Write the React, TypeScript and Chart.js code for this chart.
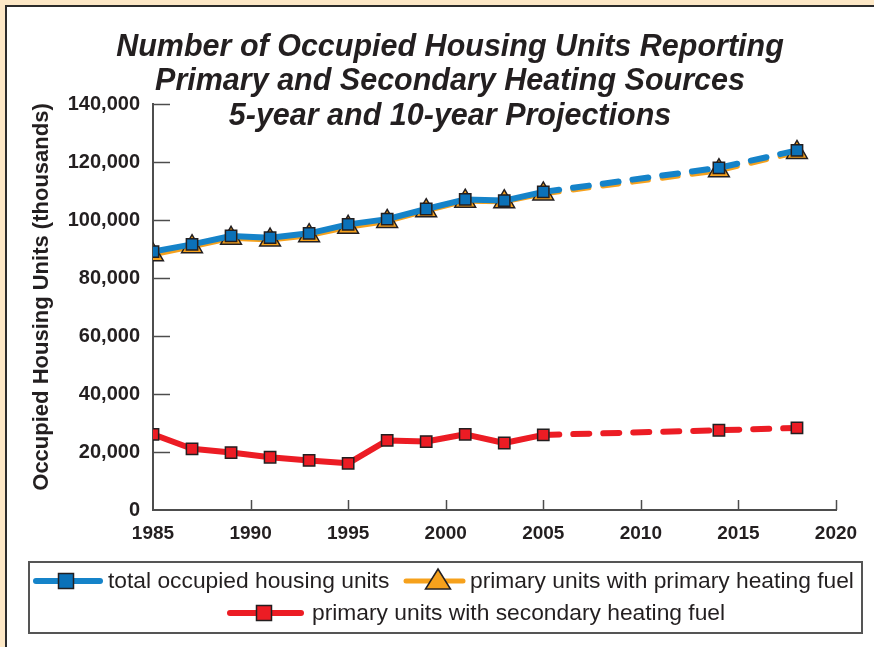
import React, { useEffect, useRef } from 'react';
import { Chart, registerables } from 'chart.js';

Chart.register(...registerables);

// ---- data ----
const years = [1985, 1987, 1989, 1991, 1993, 1995, 1997, 1999, 2001, 2003, 2005, 2014, 2018];
const totalUnits = [89100, 91600, 94500, 93900, 95400, 98500, 100300, 103800, 107100, 106700, 109700, 118000, 124000];
const primaryFuel = [88000, 90800, 93700, 93100, 94600, 97500, 99500, 103200, 106500, 106300, 109000, 117000, 123300];
const secondaryFuel = [26100, 21100, 19800, 18200, 17100, 16100, 24000, 23600, 26100, 23100, 25900, 27500, 28300];
const projectionStart = 2005;

const xTickValues = [1985, 1990, 1995, 2000, 2005, 2010, 2015, 2020];
const yTickValues = [0, 20000, 40000, 60000, 80000, 100000, 120000, 140000];

const titleLines = [
  'Number of Occupied Housing Units Reporting',
  'Primary and Secondary Heating Sources',
  '5-year and 10-year Projections',
];
const yAxisTitle = 'Occupied Housing Units (thousands)';
const seriesLabels = [
  'total occupied housing units',
  'primary units with primary heating fuel',
  'primary units with secondary heating fuel',
];

// ---- styles ----
const FONT = '"Liberation Sans", Arial, Helvetica, sans-serif';
const BLUE = '#1583c9';
const BLUE_MK = '#0b71b8';
const ORANGE = '#f6a11c';
const RED = '#ec1c24';
const EDGE = '#231f20';
const AXIS = '#4d4d4d';
const TEXT = '#231f20';

function drawSquare(ctx: CanvasRenderingContext2D, cx: number, cy: number, side: number, fill: string) {
  ctx.fillStyle = fill;
  ctx.strokeStyle = EDGE;
  ctx.lineWidth = 1.5;
  ctx.fillRect(cx - side / 2, cy - side / 2, side, side);
  ctx.strokeRect(cx - side / 2, cy - side / 2, side, side);
}

function drawTriangle(ctx: CanvasRenderingContext2D, cx: number, cy: number, w: number, h: number, fill: string) {
  ctx.beginPath();
  ctx.moveTo(cx, cy - h * 0.6);
  ctx.lineTo(cx + w / 2, cy + h * 0.4);
  ctx.lineTo(cx - w / 2, cy + h * 0.4);
  ctx.closePath();
  ctx.fillStyle = fill;
  ctx.fill();
  ctx.strokeStyle = EDGE;
  ctx.lineWidth = 1.5;
  ctx.stroke();
}

function legendLine(ctx: CanvasRenderingContext2D, x1: number, x2: number, y: number, color: string, w: number) {
  ctx.beginPath();
  ctx.moveTo(x1, y);
  ctx.lineTo(x2, y);
  ctx.strokeStyle = color;
  ctx.lineWidth = w;
  ctx.lineCap = 'round';
  ctx.stroke();
}

const decorPlugin = {
  id: 'decor',
  beforeDatasetsDraw(chart: any) {
    const { ctx, chartArea, scales } = chart;
    const x = scales.x;
    const y = scales.y;
    ctx.save();
    ctx.strokeStyle = AXIS;
    ctx.lineWidth = 1.5;
    yTickValues.forEach((v) => {
      if (v === 0) return;
      const py = Math.round(y.getPixelForValue(v)) + 0.5;
      ctx.beginPath();
      ctx.moveTo(chartArea.left, py);
      ctx.lineTo(chartArea.left + 17, py);
      ctx.stroke();
    });
    xTickValues.forEach((v) => {
      if (v === xTickValues[0]) return;
      const px = Math.round(x.getPixelForValue(v)) + 0.5;
      ctx.beginPath();
      ctx.moveTo(px, chartArea.bottom);
      ctx.lineTo(px, chartArea.bottom - 10);
      ctx.stroke();
    });
    ctx.restore();
  },
  afterDraw(chart: any) {
    const { ctx } = chart;
    ctx.save();
    // title
    ctx.fillStyle = TEXT;
    ctx.font = `italic bold 30.5px ${FONT}`;
    ctx.textAlign = 'center';
    ctx.textBaseline = 'alphabetic';
    const baselines = [56, 90, 125];
    titleLines.forEach((t, i) => ctx.fillText(t, 450, baselines[i]));

    // y axis title
    ctx.save();
    ctx.translate(42, 297);
    ctx.rotate(-Math.PI / 2);
    ctx.font = `bold 22px ${FONT}`;
    ctx.textAlign = 'center';
    ctx.textBaseline = 'middle';
    ctx.fillText(yAxisTitle, 0, 0);
    ctx.restore();

    // legend box
    ctx.strokeStyle = '#555555';
    ctx.lineWidth = 2;
    ctx.strokeRect(29, 562, 833, 71);

    ctx.font = `22.8px ${FONT}`;
    ctx.textAlign = 'left';
    ctx.textBaseline = 'middle';
    ctx.fillStyle = TEXT;

    const r1 = 581;
    const r2 = 613;
    legendLine(ctx, 36, 100, r1, BLUE, 6);
    drawSquare(ctx, 66, r1, 15, BLUE_MK);
    ctx.fillStyle = TEXT;
    ctx.fillText(seriesLabels[0], 108, r1 + 1);

    legendLine(ctx, 406, 463, r1, ORANGE, 5);
    drawTriangle(ctx, 438, r1, 25, 20, ORANGE);
    ctx.fillStyle = TEXT;
    ctx.fillText(seriesLabels[1], 470, r1 + 1);

    legendLine(ctx, 230, 301, r2, RED, 6);
    drawSquare(ctx, 264, r2, 15, RED);
    ctx.fillStyle = TEXT;
    ctx.fillText(seriesLabels[2], 312, r2 + 1);

    ctx.restore();
  },
};

const dashAfterProjection = (ctx: any) =>
  ctx.p0.parsed.x >= projectionStart ? [16, 14] : undefined;

function toPoints(values: number[]) {
  return years.map((yr, i) => ({ x: yr, y: values[i] }));
}

export default function App() {
  const canvasRef = useRef<HTMLCanvasElement | null>(null);

  useEffect(() => {
    const canvas = canvasRef.current;
    if (!canvas) return;
    const chart = new Chart(canvas, {
      type: 'line',
      data: {
        datasets: [
          {
            label: seriesLabels[0],
            data: toPoints(totalUnits),
            borderColor: BLUE,
            borderWidth: 6,
            borderCapStyle: 'round',
            borderJoinStyle: 'round',
            pointStyle: 'rect',
            pointRadius: 8,
            pointBackgroundColor: BLUE_MK,
            pointBorderColor: EDGE,
            pointBorderWidth: 1.5,
            tension: 0,
            order: 0,
            segment: { borderDash: dashAfterProjection },
          },
          {
            label: seriesLabels[1],
            data: toPoints(primaryFuel),
            borderColor: ORANGE,
            borderWidth: 5,
            borderCapStyle: 'round',
            borderJoinStyle: 'round',
            pointStyle: 'triangle',
            pointRadius: 12,
            pointBackgroundColor: ORANGE,
            pointBorderColor: EDGE,
            pointBorderWidth: 1.5,
            tension: 0,
            order: 1,
            segment: { borderDash: dashAfterProjection },
          },
          {
            label: seriesLabels[2],
            data: toPoints(secondaryFuel),
            borderColor: RED,
            borderWidth: 6,
            borderCapStyle: 'round',
            borderJoinStyle: 'round',
            pointStyle: 'rect',
            pointRadius: 8,
            pointBackgroundColor: RED,
            pointBorderColor: EDGE,
            pointBorderWidth: 1.5,
            tension: 0,
            order: 2,
            segment: { borderDash: dashAfterProjection },
          },
        ],
      },
      options: {
        responsive: false,
        animation: false,
        devicePixelRatio: 1,
        layout: { padding: { left: 0, top: 104, right: 38, bottom: 0 } },
        plugins: {
          legend: { display: false },
          title: { display: false },
          tooltip: { enabled: false },
        },
        scales: {
          x: {
            type: 'linear',
            min: 1985,
            max: 2020,
            afterBuildTicks: (scale: any) => {
              scale.ticks = xTickValues.map((v) => ({ value: v }));
            },
            afterFit: (scale: any) => {
              scale.height = 137;
            },
            ticks: {
              autoSkip: false,
              maxRotation: 0,
              padding: 12,
              color: TEXT,
              font: { family: FONT, size: 19, weight: 'bold' },
              callback: (v: any) => String(v),
            },
            grid: { display: false, drawTicks: false },
            border: { display: true, color: AXIS, width: 2 },
          },
          y: {
            type: 'linear',
            min: 0,
            max: 140000,
            afterBuildTicks: (scale: any) => {
              scale.ticks = yTickValues.map((v) => ({ value: v }));
            },
            afterFit: (scale: any) => {
              scale.width = 153;
            },
            ticks: {
              padding: 13,
              color: TEXT,
              font: { family: FONT, size: 20, weight: 'bold' },
              callback: (v: any) => Number(v).toLocaleString('en-US'),
            },
            grid: { display: false, drawTicks: false },
            border: { display: true, color: AXIS, width: 2 },
          },
        },
      },
      plugins: [decorPlugin],
    } as any);
    return () => chart.destroy();
  }, []);

  return (
    <div
      style={{
        position: 'absolute',
        left: 0,
        top: 0,
        width: 874,
        height: 647,
        overflow: 'hidden',
        background: '#fde8c6',
      }}
    >
      <div
        style={{
          position: 'absolute',
          left: 5,
          top: 5,
          width: 900,
          height: 700,
          background: '#ffffff',
          borderLeft: '2px solid #2b2b2b',
          borderTop: '2px solid #2b2b2b',
        }}
      />
      <canvas
        ref={canvasRef}
        width={874}
        height={647}
        style={{ position: 'absolute', left: 0, top: 0, width: 874, height: 647 }}
      />
    </div>
  );
}
